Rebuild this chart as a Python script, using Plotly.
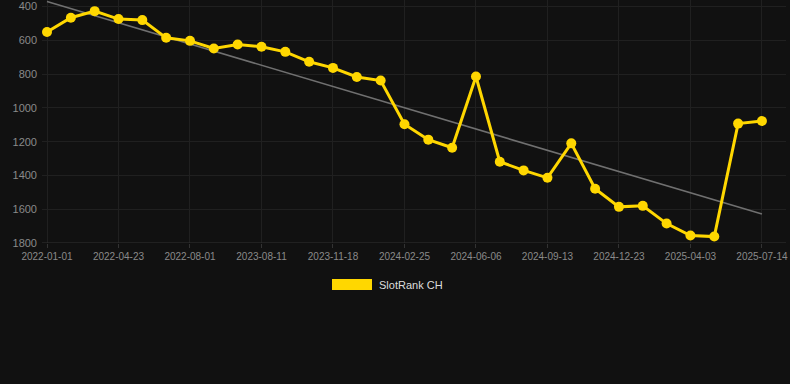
import numpy as np
import plotly.graph_objects as go

dates = [
    "2022-01-01", "2022-02-07", "2022-03-16", "2022-04-23", "2022-05-26", "2022-06-28",
    "2022-08-01", "2022-12-01", "2023-04-05", "2023-08-11", "2023-09-13", "2023-10-16",
    "2023-11-18", "2023-12-21", "2024-01-23", "2024-02-25", "2024-03-30", "2024-05-03",
    "2024-06-06", "2024-07-09", "2024-08-11", "2024-09-13", "2024-10-16", "2024-11-19",
    "2024-12-23", "2025-01-26", "2025-02-28", "2025-04-03", "2025-05-07", "2025-06-10",
    "2025-07-14",
]
ranks = [551, 466, 427, 474, 480, 585, 603, 648, 625, 638, 668, 727, 763, 817, 838,
         1097, 1188, 1236, 814, 1319, 1370, 1414, 1210, 1479, 1586, 1580, 1685, 1756,
         1762, 1093, 1078]
tick_dates = dates[::3]
y_ticks = [400, 600, 800, 1000, 1200, 1400, 1600, 1800]
series_name = "SlotRank CH"

idx = np.arange(len(ranks))
slope, intercept = np.polyfit(idx, ranks, 1)
trend = [float(intercept + slope * i) for i in idx]

gold = "#FFD700"
fig = go.Figure()
fig.add_trace(go.Scatter(x=dates, y=trend, mode="lines",
                         line=dict(color="#707070", width=1.6),
                         hoverinfo="skip", showlegend=False))
fig.add_trace(go.Scatter(x=dates, y=ranks, mode="lines+markers", name=series_name,
                         line=dict(color=gold, width=3),
                         marker=dict(color=gold, size=10),
                         showlegend=False))

fig.update_layout(
    width=790, height=384,
    margin=dict(l=42, r=4, t=0, b=141),
    paper_bgcolor="#111111", plot_bgcolor="#111111",
    font=dict(family="Liberation Sans, Arial, sans-serif", color="#8a8a8a"),
    xaxis=dict(type="category", categoryorder="array", categoryarray=dates,
               tickvals=tick_dates, ticktext=tick_dates,
               range=[-0.21, 31.01],
               showgrid=True, gridcolor="#202020", gridwidth=1,
               showline=False, zeroline=False,
               ticks="outside", ticklen=4, tickcolor="#333333",
               tickfont=dict(size=10, color="#8a8a8a")),
    yaxis=dict(autorange=False, range=[1800, 361],
               tickvals=y_ticks, ticktext=[str(v) for v in y_ticks],
               showgrid=True, gridcolor="#202020", gridwidth=1,
               zeroline=False, showline=False,
               ticks="", ticklabelstandoff=4,
               tickfont=dict(size=11, color="#8a8a8a")),
    shapes=[
        dict(type="line", xref="paper", yref="y", x0=0, x1=1, y0=1800, y1=1800,
             line=dict(color="#333333", width=1)),
        dict(type="rect", xref="paper", yref="paper",
             x0=(332 - 42) / 744, x1=(372 - 42) / 744,
             y0=(243 - 290) / 243, y1=(243 - 279) / 243,
             fillcolor=gold, line=dict(width=0)),
    ],
    annotations=[
        dict(text=series_name, xref="paper", yref="paper",
             x=(377 - 42) / 744, y=(243 - 284.5) / 243,
             xanchor="left", yanchor="middle", showarrow=False,
             font=dict(size=11, color="#dddddd")),
    ],
)

fig.write_html("out.html", config={"displayModeBar": False},
               post_script="document.body.style.margin='0';document.body.style.background='#111111';")
